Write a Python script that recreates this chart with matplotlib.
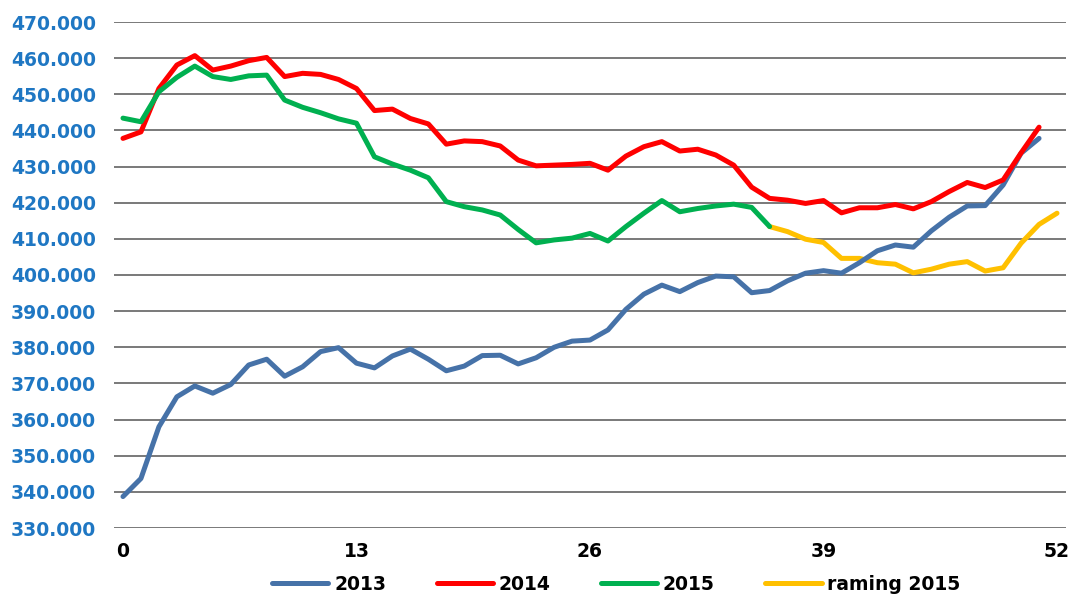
import matplotlib
matplotlib.use("Agg")
import matplotlib.pyplot as plt
from matplotlib.ticker import FuncFormatter

# weekly values (x 1000)
weeks_2013 = list(range(0, 52))
vals_2013 = [
    338.7, 343.7, 358.0, 366.3, 369.3, 367.3, 369.7, 375.1, 376.7, 372.0,
    374.6, 378.8, 379.9, 375.6, 374.3, 377.6, 379.5, 376.7, 373.5, 374.8,
    377.7, 377.8, 375.4, 377.1, 380.0, 381.7, 382.0, 384.8, 390.5, 394.7,
    397.2, 395.4, 397.9, 399.7, 399.5, 395.1, 395.7, 398.4, 400.5, 401.2,
    400.5, 403.4, 406.7, 408.3, 407.7, 412.2, 416.0, 419.1, 419.2, 424.9,
    433.7, 437.8,
]

weeks_2014 = list(range(0, 52))
vals_2014 = [
    437.8, 439.6, 451.6, 458.1, 460.7, 456.7, 457.8, 459.3, 460.2, 454.9,
    455.8, 455.5, 454.1, 451.6, 445.5, 445.9, 443.3, 441.8, 436.2, 437.1,
    436.9, 435.7, 431.8, 430.2, 430.4, 430.6, 430.9, 429.0, 432.9, 435.5,
    436.9, 434.3, 434.8, 433.2, 430.4, 424.3, 421.2, 420.7, 419.8, 420.6,
    417.2, 418.6, 418.6, 419.5, 418.3, 420.3, 423.1, 425.6, 424.2, 426.3,
    433.8, 440.9,
]

weeks_2015 = list(range(0, 37))
vals_2015 = [
    443.4, 442.4, 450.7, 454.7, 457.8, 454.9, 454.1, 455.1, 455.3, 448.4,
    446.4, 444.9, 443.2, 442.0, 432.7, 430.7, 429.0, 426.9, 420.3, 418.9,
    418.0, 416.6, 412.6, 408.9, 409.7, 410.2, 411.5, 409.4, 413.4, 417.1,
    420.6, 417.5, 418.4, 419.1, 419.6, 418.7, 413.4,
]

weeks_raming = list(range(36, 53))
vals_raming = [
    413.4, 412.0, 409.9, 409.0, 404.6, 404.6, 403.4, 403.0, 400.6, 401.6,
    403.0, 403.7, 401.1, 402.0, 408.8, 414.0, 417.1,
]

labels = ["2013", "2014", "2015", "raming 2015"]
colors = ["#4672A8", "#FF0000", "#00B050", "#FFC000"]

x_ticks = [0, 13, 26, 39, 52]
y_ticks = list(range(330, 471, 10))


def dutch_thousands(v, pos):
    return "{:,}".format(int(round(v * 1000))).replace(",", ".")


fig = plt.figure(figsize=(10.72, 5.94), dpi=100)
ax = fig.add_axes([114 / 1072, 1 - 528 / 594, (1066 - 114) / 1072, (528 - 22) / 594])

series = [
    (weeks_2013, vals_2013),
    (weeks_2014, vals_2014),
    (weeks_2015, vals_2015),
    (weeks_raming, vals_raming),
]
# raming first so the green line sits on top at the joint
order = [3, 0, 1, 2]
lines = {}
for i in order:
    xs, ys = series[i]
    (ln,) = ax.plot(xs, ys, color=colors[i], lw=3.6, label=labels[i],
                    solid_capstyle="round", solid_joinstyle="round", zorder=3)
    lines[i] = ln

ax.set_xlim(-0.5, 52.5)
ax.set_ylim(330, 470)
ax.set_xticks(x_ticks)
ax.set_yticks(y_ticks)
ax.yaxis.set_major_formatter(FuncFormatter(dutch_thousands))

for s in ax.spines.values():
    s.set_visible(False)
ax.grid(axis="y", color="#555555", lw=1.1, zorder=1)
ax.tick_params(length=0)
ax.tick_params(axis="y", pad=13)
ax.tick_params(axis="x", pad=10)

for t in ax.get_yticklabels():
    t.set_fontsize(13.5)
    t.set_fontweight("bold")
    t.set_color("#1F77C3")
for t in ax.get_xticklabels():
    t.set_fontsize(13.5)
    t.set_fontweight("bold")
    t.set_color("black")

fig.legend(
    [lines[i] for i in range(4)], labels,
    loc="center", bbox_to_anchor=(0.575, 0.016), ncol=4, frameon=False,
    prop={"weight": "bold", "size": 13.5}, handlelength=3.0,
    columnspacing=2.7, handletextpad=0.3,
)

fig.savefig("out.png", dpi=100)
